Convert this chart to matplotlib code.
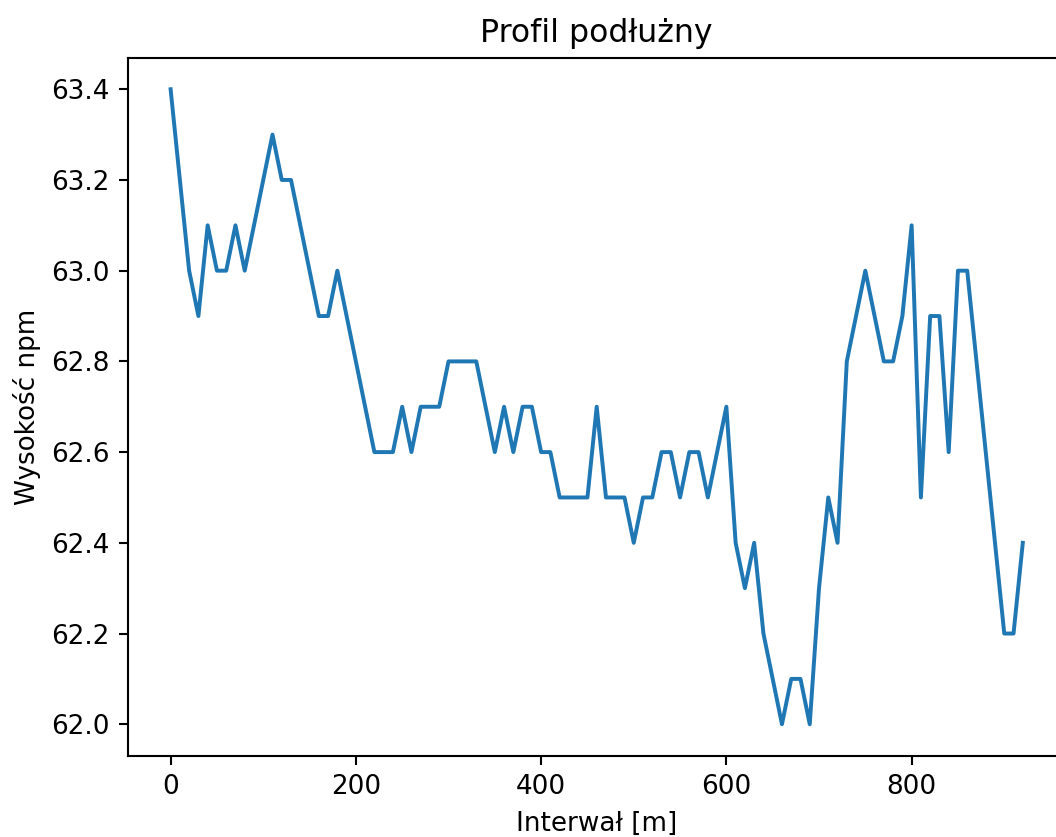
import matplotlib
matplotlib.use("Agg")
import matplotlib.pyplot as plt

interwal = list(range(0, 930, 10))
wysokosc = [
    63.4, 63.2, 63.0, 62.9, 63.1, 63.0, 63.0, 63.1, 63.0, 63.1,
    63.2, 63.3, 63.2, 63.2, 63.1, 63.0, 62.9, 62.9, 63.0, 62.9,
    62.8, 62.7, 62.6, 62.6, 62.6, 62.7, 62.6, 62.7, 62.7, 62.7,
    62.8, 62.8, 62.8, 62.8, 62.7, 62.6, 62.7, 62.6, 62.7, 62.7,
    62.6, 62.6, 62.5, 62.5, 62.5, 62.5, 62.7, 62.5, 62.5, 62.5,
    62.4, 62.5, 62.5, 62.6, 62.6, 62.5, 62.6, 62.6, 62.5, 62.6,
    62.7, 62.4, 62.3, 62.4, 62.2, 62.1, 62.0, 62.1, 62.1, 62.0,
    62.3, 62.5, 62.4, 62.8, 62.9, 63.0, 62.9, 62.8, 62.8, 62.9,
    63.1, 62.5, 62.9, 62.9, 62.6, 63.0, 63.0, 62.8, 62.6, 62.4,
    62.2, 62.2, 62.4,
]

DPI = 189
fig = plt.figure(figsize=(1056 / DPI, 837 / DPI), dpi=DPI)
ax = fig.add_axes([128 / 1056, 81 / 837, 937.4 / 1056, 698.5 / 837])
ax.plot(interwal, wysokosc)
ax.set_title("Profil podłużny")
ax.set_xlabel("Interwał [m]")
ax.set_ylabel("Wysokość npm")
fig.savefig("out.png", dpi=DPI)
